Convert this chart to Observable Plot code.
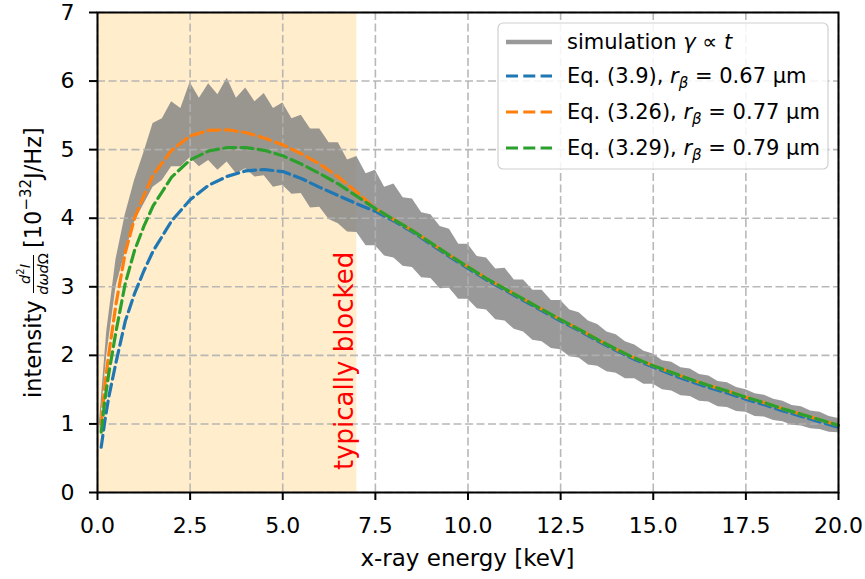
<!DOCTYPE html>
<html>
<head>
<meta charset="utf-8">
<script src="https://cdn.jsdelivr.net/npm/d3@7"></script>
<script src="https://cdn.jsdelivr.net/npm/@observablehq/plot@0.6"></script>
<style>
  html, body { margin: 0; padding: 0; background: white; }
  #chart { width: 865px; height: 579px; }
</style>
</head>
<body>
<div id="chart"></div>
<script>
// ---------- data ----------
const xTicks = [0, 2.5, 5, 7.5, 10, 12.5, 15, 17.5, 20];
const yTicks = [0, 1, 2, 3, 4, 5, 6, 7];

// model curves (keV)
const energy = [0.1, 0.2, 0.3, 0.5, 0.75, 1, 1.25, 1.5, 2, 2.5, 3, 3.5, 4, 4.5, 5, 5.5, 6, 6.5, 7,
  7.5, 8, 8.5, 9, 9.5, 10, 10.5, 11, 11.5, 12, 12.5, 13, 13.5, 14, 14.5, 15, 15.5, 16, 16.5, 17, 17.5, 18, 18.5, 19, 19.5, 20];
const eq39 = [0.66, 1.05, 1.38, 1.9, 2.5, 2.9, 3.23, 3.52, 3.96, 4.27, 4.48, 4.61, 4.69, 4.71, 4.68, 4.58, 4.45, 4.33, 4.21,
  4.10, 3.96, 3.80, 3.62, 3.44, 3.27, 3.10, 2.95, 2.80, 2.65, 2.50, 2.36, 2.21, 2.07, 1.94, 1.83, 1.72, 1.62, 1.53, 1.45, 1.36, 1.28, 1.19, 1.11, 1.03, 0.95];
const eq326 = [1.0, 1.58, 2.0, 2.75, 3.5, 4.0, 4.33, 4.63, 4.99, 5.2, 5.28, 5.29, 5.25, 5.17, 5.07, 4.94, 4.79, 4.6, 4.38,
  4.14, 3.98, 3.82, 3.64, 3.46, 3.29, 3.12, 2.97, 2.82, 2.67, 2.52, 2.38, 2.23, 2.09, 1.96, 1.85, 1.75, 1.65, 1.56, 1.48, 1.39, 1.31, 1.22, 1.14, 1.06, 0.98];
const eq329 = [0.88, 1.35, 1.72, 2.35, 3.05, 3.53, 3.88, 4.18, 4.6, 4.85, 4.98, 5.03, 5.03, 4.99, 4.91, 4.79, 4.65, 4.5, 4.32,
  4.14, 3.98, 3.82, 3.64, 3.46, 3.29, 3.12, 2.97, 2.82, 2.67, 2.52, 2.38, 2.23, 2.09, 1.96, 1.85, 1.75, 1.65, 1.56, 1.48, 1.39, 1.31, 1.22, 1.14, 1.06, 0.98];

// simulation (noisy) envelope
const simEnergy = [0.05,
  0.25, 0.5, 0.75, 1, 1.25, 1.5, 1.75, 2, 2.25, 2.5, 2.75, 3, 3.25, 3.5, 3.75, 4, 4.25, 4.5, 4.75, 5,
  5.25, 5.5, 5.75, 6, 6.25, 6.5, 6.75, 7, 7.25, 7.5, 7.75, 8, 8.25, 8.5, 8.75, 9, 9.25, 9.5, 9.75, 10,
  10.25, 10.5, 10.75, 11, 11.25, 11.5, 11.75, 12, 12.25, 12.5, 12.75, 13, 13.25, 13.5, 13.75, 14, 14.25, 14.5, 14.75, 15,
  15.25, 15.5, 15.75, 16, 16.25, 16.5, 16.75, 17, 17.25, 17.5, 17.75, 18, 18.25, 18.5, 18.75, 19, 19.25, 19.5, 19.75, 20];
const simUpper = [1.0,
  2.35, 3.4, 4.05, 4.55, 4.95, 5.38, 5.45, 5.7, 5.6, 5.98, 5.75, 5.96, 5.8, 6.04, 5.75, 5.9, 5.7, 5.82, 5.6, 5.68,
  5.45, 5.5, 5.3, 5.3, 5.1, 5.1, 4.85, 4.9, 4.65, 4.7, 4.45, 4.5, 4.3, 4.28, 4.08, 4.05, 3.88, 3.84, 3.62, 3.62,
  3.44, 3.42, 3.26, 3.27, 3.1, 3.1, 2.95, 2.95, 2.8, 2.8, 2.66, 2.62, 2.5, 2.45, 2.34, 2.3, 2.2, 2.15, 2.06, 2.02,
  1.92, 1.9, 1.82, 1.8, 1.72, 1.7, 1.62, 1.6, 1.53, 1.5, 1.44, 1.42, 1.36, 1.33, 1.27, 1.25, 1.19, 1.17, 1.11, 1.08];
const simLower = [0.85,
  2.0, 3.0, 3.5, 3.95, 4.2, 4.45, 4.55, 4.75, 4.75, 4.88, 4.75, 4.84, 4.7, 4.82, 4.65, 4.72, 4.6, 4.62, 4.45, 4.48,
  4.35, 4.36, 4.15, 4.16, 3.98, 3.92, 3.8, 3.79, 3.6, 3.6, 3.45, 3.42, 3.3, 3.28, 3.13, 3.12, 2.97, 2.98, 2.82, 2.82,
  2.68, 2.66, 2.52, 2.5, 2.38, 2.34, 2.22, 2.2, 2.1, 2.08, 1.98, 1.96, 1.86, 1.84, 1.76, 1.74, 1.66, 1.66, 1.58, 1.58,
  1.5, 1.48, 1.41, 1.4, 1.33, 1.32, 1.25, 1.24, 1.18, 1.17, 1.11, 1.1, 1.05, 1.03, 0.98, 0.97, 0.93, 0.92, 0.88, 0.87];

const blockedRange = [0, 7];
const blockedLabel = "typically blocked";
const seriesColors = ["#1f77b4", "#ff7f0e", "#2ca02c"];
const xLabel = "x-ray energy [keV]";

// ---------- tables ----------
const simData = simEnergy.map((e, i) => ({e, lo: simLower[i], hi: simUpper[i]}));
const curves = [eq39, eq326, eq329].map((vals, k) => energy.map((e, i) => ({e, v: vals[i], k})));

const FONT = "'DejaVu Sans', 'Liberation Sans', sans-serif";
const gridStyle = {stroke: "#b0b0b0", strokeOpacity: 0.9, strokeWidth: 1.6, strokeDasharray: "8,3.5"};
const dash = "12,5.3";

const chart = Plot.plot({
  width: 865,
  height: 579,
  marginLeft: 97,
  marginRight: 27,
  marginTop: 12,
  marginBottom: 87,
  style: `font-family: ${FONT}; font-size: 22px; background: white; overflow: visible;`,
  x: {domain: [0, 20], label: null},
  y: {domain: [0, 7], label: null},
  marks: [
    Plot.rect([blockedRange], {x1: d => d[0], x2: d => d[1], y1: 0, y2: 7, fill: "orange", fillOpacity: 0.2}),
    Plot.areaY(simData, {x: "e", y1: "lo", y2: "hi", fill: "#808080", fillOpacity: 0.8}),
    Plot.ruleX(xTicks, gridStyle),
    Plot.ruleY(yTicks, gridStyle),
    ...curves.map((c, k) => Plot.line(c, {x: "e", y: "v", stroke: seriesColors[k], strokeWidth: 3.2, strokeDasharray: dash})),
    Plot.frame({stroke: "black", strokeWidth: 2}),
    Plot.axisX({ticks: xTicks, tickFormat: d3.format(".1f"), tickSize: 8, tickPadding: 17, strokeWidth: 2, label: null}),
    Plot.axisY({ticks: yTicks, tickFormat: d3.format("d"), tickSize: 8, tickPadding: 15, strokeWidth: 2, label: null})
  ]
});
document.getElementById("chart").appendChild(chart);

const svg = d3.select(chart);
const xs = chart.scale("x"), ys = chart.scale("y");

// x label
svg.append("text")
  .attr("x", (xs.apply(0) + xs.apply(20)) / 2).attr("y", 566)
  .style("text-anchor", "middle").style("font-size", "23px").attr("fill", "black")
  .text(xLabel);

// y label with fraction
const yl = svg.append("g").attr("transform", "translate(41,398) rotate(-90)")
  .style("font-size", "22.5px").style("text-anchor", "start").attr("fill", "black");
yl.append("text").attr("x", 0).attr("y", 0).text("intensity");
yl.append("text").attr("x", 124).attr("y", -11).style("text-anchor", "middle").style("font-size", "14.5px")
  .html('<tspan font-style="italic">d</tspan><tspan dy="-6" style="font-size:10px">2</tspan><tspan dy="6" font-style="italic">I</tspan>');
yl.append("line").attr("x1", 105).attr("x2", 143).attr("y1", -7.5).attr("y2", -7.5).attr("stroke", "black").attr("stroke-width", 1);
yl.append("text").attr("x", 124).attr("y", 7).style("text-anchor", "middle").style("font-size", "14.5px")
  .html('<tspan font-style="italic">dωd</tspan>Ω');
yl.append("text").attr("x", 150).attr("y", 0)
  .html('[10<tspan dy="-10" style="font-size:15px">−32</tspan><tspan dy="10">J/Hz]</tspan>');

// "typically blocked" annotation
svg.append("text")
  .attr("transform", `translate(${xs.apply(blockedRange[1]) - 3},${ys.apply(0) - 22}) rotate(-90)`)
  .style("font-size", "26px").attr("fill", "red").style("text-anchor", "start")
  .text(blockedLabel);

// legend
const lg = svg.append("g").style("font-size", "21px").style("text-anchor", "start").attr("fill", "black");
lg.append("rect").attr("x", 498).attr("y", 23).attr("width", 330).attr("height", 146).attr("rx", 5)
  .attr("fill", "white").attr("fill-opacity", 0.85).attr("stroke", "#d0d0d0").attr("stroke-width", 1.2);
const rows = [42, 76, 112, 148];
const sub = '<tspan font-style="italic">r</tspan><tspan font-style="italic" style="font-size:15px" dy="5">β</tspan><tspan dy="-5">';
const legendItems = [
  {stroke: "#808080", op: 0.8, dash: null, w: 4.5, html: 'simulation <tspan font-style="italic">γ</tspan> ∝ <tspan font-style="italic">t</tspan>'},
  {stroke: seriesColors[0], op: 1, dash, w: 3.2, html: 'Eq. (3.9), ' + sub + ' = 0.67 μm</tspan>'},
  {stroke: seriesColors[1], op: 1, dash, w: 3.2, html: 'Eq. (3.26), ' + sub + ' = 0.77 μm</tspan>'},
  {stroke: seriesColors[2], op: 1, dash, w: 3.2, html: 'Eq. (3.29), ' + sub + ' = 0.79 μm</tspan>'}
];
legendItems.forEach((it, i) => {
  const l = lg.append("line").attr("x1", 506).attr("x2", 552).attr("y1", rows[i]).attr("y2", rows[i])
    .attr("stroke", it.stroke).attr("stroke-opacity", it.op).attr("stroke-width", it.w);
  if (it.dash) l.attr("stroke-dasharray", it.dash);
  lg.append("text").attr("x", 567).attr("y", rows[i] + 7).html(it.html);
});
</script>
</body>
</html>
